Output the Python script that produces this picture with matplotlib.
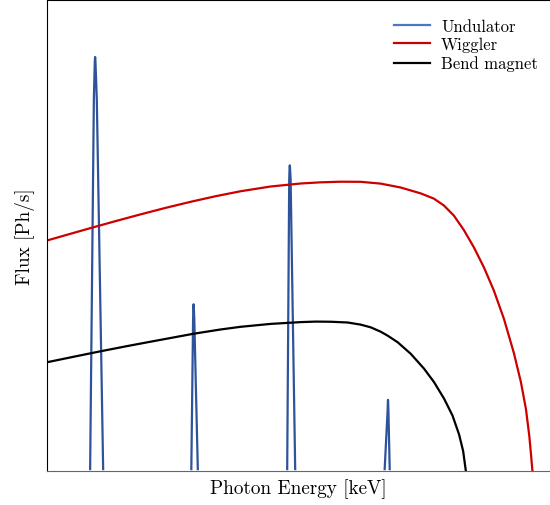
import matplotlib.pyplot as plt
from matplotlib.lines import Line2D

plt.rcParams['font.family'] = 'serif'
plt.rcParams['font.serif'] = ['cmr10']
plt.rcParams['mathtext.fontset'] = 'cm'
plt.rcParams['axes.formatter.use_mathtext'] = True

# Wiggler
wig_x = [0.000, 0.458, 0.896, 1.355, 1.853, 2.351, 2.849, 3.347, 3.845, 4.442,
         5.040, 5.438, 5.837, 6.235, 6.633, 7.032, 7.430, 7.689, 7.888, 8.088,
         8.287, 8.486, 8.685, 8.884, 9.084, 9.283, 9.422, 9.522, 9.588, 9.618,
         9.651]
wig_y = [4.894, 5.034, 5.167, 5.303, 5.447, 5.585, 5.714, 5.833, 5.939, 6.040,
         6.104, 6.129, 6.142, 6.140, 6.102, 6.019, 5.894, 5.784, 5.640, 5.424,
         5.117, 4.750, 4.326, 3.831, 3.231, 2.500, 1.886, 1.314, 0.748, 0.403,
         0.0]

# Aimant de courbure
bend_x = [0.000, 0.558, 1.056, 1.554, 2.052, 2.908, 3.446, 3.845, 4.442, 5.040,
          5.339, 5.637, 5.976, 6.235, 6.434, 6.633, 6.773, 6.972, 7.231, 7.496,
          7.695, 7.894, 8.062, 8.193, 8.273, 8.327]
bend_y = [2.309, 2.432, 2.540, 2.644, 2.744, 2.913, 3.004, 3.061, 3.123, 3.161,
          3.172, 3.169, 3.153, 3.108, 3.051, 2.958, 2.873, 2.733, 2.489, 2.172,
          1.886, 1.536, 1.176, 0.773, 0.424, 0.0]

# Onduleur : pics harmoniques
und_peaks_x = [
    [0.857, 0.931, 0.944, 0.951, 0.956, 0.962, 0.971, 0.990, 1.116],
    [2.869, 2.904, 2.909, 2.912, 2.914, 2.917, 2.921, 2.928, 2.998],
    [4.775, 4.815, 4.820, 4.824, 4.827, 4.830, 4.835, 4.843, 4.934],
    [6.713, 6.772, 6.775, 6.777, 6.779, 6.781, 6.783, 6.787, 6.813],
]
und_peaks_y = [
    [0.04, 7.88, 8.45, 8.72, 8.79, 8.72, 8.45, 7.88, 0.04],
    [0.04, 3.22, 3.40, 3.50, 3.54, 3.50, 3.40, 3.22, 0.04],
    [0.04, 6.19, 6.36, 6.45, 6.49, 6.45, 6.36, 6.19, 0.04],
    [0.04, 1.30, 1.42, 1.48, 1.51, 1.48, 1.42, 1.30, 0.04],
]

fig = plt.figure(figsize=(5.5, 5.06), dpi=100)
ax = fig.add_axes([0.0855, 0.0672, 0.9145, 0.9308])

for px, py in zip(und_peaks_x, und_peaks_y):
    ax.plot(px, py, color='#2f539a', lw=1.6)
ax.plot(wig_x, wig_y, color='#cc0000', lw=1.6)
ax.plot(bend_x, bend_y, color='black', lw=1.6)

ax.set_xlim(0, 10)
ax.set_ylim(0, 10)
ax.set_xticks([])
ax.set_yticks([])
ax.spines['bottom'].set_color('#666666')
ax.spines['right'].set_visible(False)

handles = [Line2D([], [], color='#4a78c8', lw=1.6),
           Line2D([], [], color='#cc0000', lw=1.6),
           Line2D([], [], color='black', lw=1.6)]
ax.legend(handles, ['Undulator', 'Wiggler', 'Bend magnet'], loc='upper right',
          frameon=False, fontsize=12, handlelength=2.2, handletextpad=0.65,
          labelspacing=0.2, bbox_to_anchor=(1.006, 0.993))

ax.set_xlabel('Photon Energy [keV]', fontsize=13.8, labelpad=5)
ax.set_ylabel('Flux [Ph/s]', fontsize=13.8, labelpad=9)

fig.savefig('out.png', dpi=100)
